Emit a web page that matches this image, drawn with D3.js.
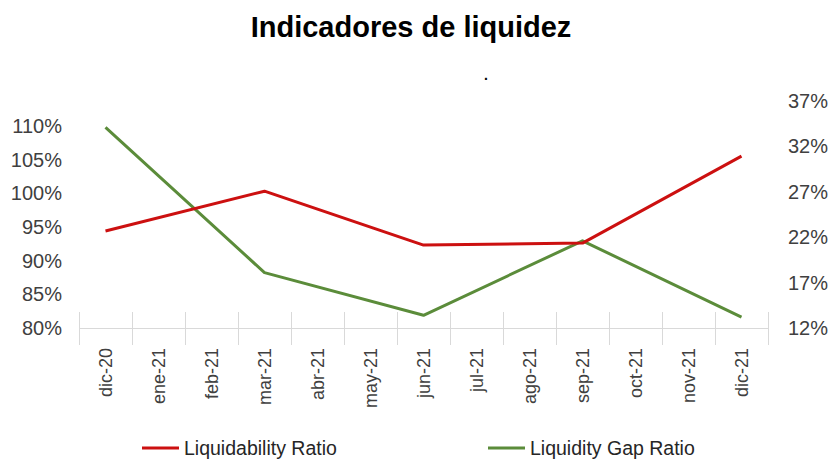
<!DOCTYPE html>
<html><head><meta charset="utf-8">
<script src="https://cdn.jsdelivr.net/npm/d3@7"></script>
<style>body{margin:0;background:#fff}svg{display:block}</style>
</head><body>
<svg id="c" width="830" height="460"></svg>
<script>
const categories = ["dic-20","ene-21","feb-21","mar-21","abr-21","may-21","jun-21","jul-21","ago-21","sep-21","oct-21","nov-21","dic-21"];
const liquidabilityRatio = [0.944,null,null,1.003,null,null,0.923,null,null,0.926,null,null,1.055];
const liquidityGapRatio  = [0.341,null,null,0.181,null,null,0.134,null,null,0.216,null,null,0.132];
const leftTicks  = [0.80,0.85,0.90,0.95,1.00,1.05,1.10];
const rightTicks = [0.12,0.17,0.22,0.27,0.32,0.37];
const seriesNames = ["Liquidability Ratio","Liquidity Gap Ratio"];

const svg = d3.select("#c");
const font = "Liberation Sans, Arial, sans-serif";
const x0 = 79, x1 = 768, yBase = 328;

const x = d3.scaleBand().domain(categories).range([x0, x1]);
const yL = d3.scaleLinear().domain([0.80, 1.15]).range([yBase, yBase - 33.7*7]);
const yR = d3.scaleLinear().domain([0.12, 0.37]).range([yBase, 101]);

// title
svg.append("text").attr("x", 411).attr("y", 37).attr("text-anchor","middle")
  .attr("font-family", font).attr("font-weight","bold").attr("font-size", 29)
  .attr("fill","#000").text("Indicadores de liquidez");
svg.append("text").attr("x", 486).attr("y", 80).attr("text-anchor","middle")
  .attr("font-family", font).attr("font-weight","bold").attr("font-size", 14)
  .attr("fill","#000").text(".");

// x axis
const grid = "#d9d9d9";
svg.append("line").attr("x1", x0).attr("x2", x1).attr("y1", yBase+0.5).attr("y2", yBase+0.5)
  .attr("stroke", grid).attr("stroke-width", 1);
const bounds = categories.map(c => x(c)).concat([x1]);
svg.selectAll(".tk").data(bounds).join("line")
  .attr("x1", d => Math.round(d)+0.5).attr("x2", d => Math.round(d)+0.5)
  .attr("y1", 312).attr("y2", 345).attr("stroke", grid).attr("stroke-width", 1);
svg.selectAll(".xl").data(categories).join("text")
  .attr("transform", d => `translate(${x(d)+x.bandwidth()/2+6},348) rotate(-90)`)
  .attr("text-anchor","end").attr("font-family", font).attr("font-size", 18)
  .attr("fill","#404040").text(d => d);

// left axis labels
svg.selectAll(".yl").data(leftTicks).join("text")
  .attr("x", 62).attr("y", d => yL(d)).attr("dy","0.35em").attr("text-anchor","end")
  .attr("font-family", font).attr("font-size", 20).attr("fill","#404040")
  .text(d => d3.format(".0%")(d));
// right axis labels
svg.selectAll(".yr").data(rightTicks).join("text")
  .attr("x", 788).attr("y", d => yR(d)).attr("dy","0.35em").attr("text-anchor","start")
  .attr("font-family", font).attr("font-size", 20).attr("fill","#404040")
  .text(d => d3.format(".0%")(d));

const red = "#cc1010", green = "#5b8c3a";
const cx = c => x(c) + x.bandwidth()/2;
const redData = categories.map((c,i)=>({c, v: liquidabilityRatio[i]})).filter(d=>d.v!=null);
const greenData = categories.map((c,i)=>({c, v: liquidityGapRatio[i]})).filter(d=>d.v!=null);
svg.append("path").datum(greenData)
  .attr("d", d3.line().x(d=>cx(d.c)).y(d=>yR(d.v)))
  .attr("fill","none").attr("stroke", green).attr("stroke-width", 3).attr("stroke-linejoin","round");
svg.append("path").datum(redData)
  .attr("d", d3.line().x(d=>cx(d.c)).y(d=>yL(d.v)))
  .attr("fill","none").attr("stroke", red).attr("stroke-width", 3).attr("stroke-linejoin","round");

// legend
const leg = [{n: seriesNames[0], c: red, x: 142}, {n: seriesNames[1], c: green, x: 488}];
leg.forEach(l => {
  svg.append("line").attr("x1", l.x).attr("x2", l.x+37).attr("y1", 448).attr("y2", 448)
    .attr("stroke", l.c).attr("stroke-width", 3);
  svg.append("text").attr("x", l.x+42).attr("y", 448).attr("dy","0.35em")
    .attr("font-family", font).attr("font-size", 19.5).attr("fill","#262626").text(l.n);
});
</script>
</body></html>
